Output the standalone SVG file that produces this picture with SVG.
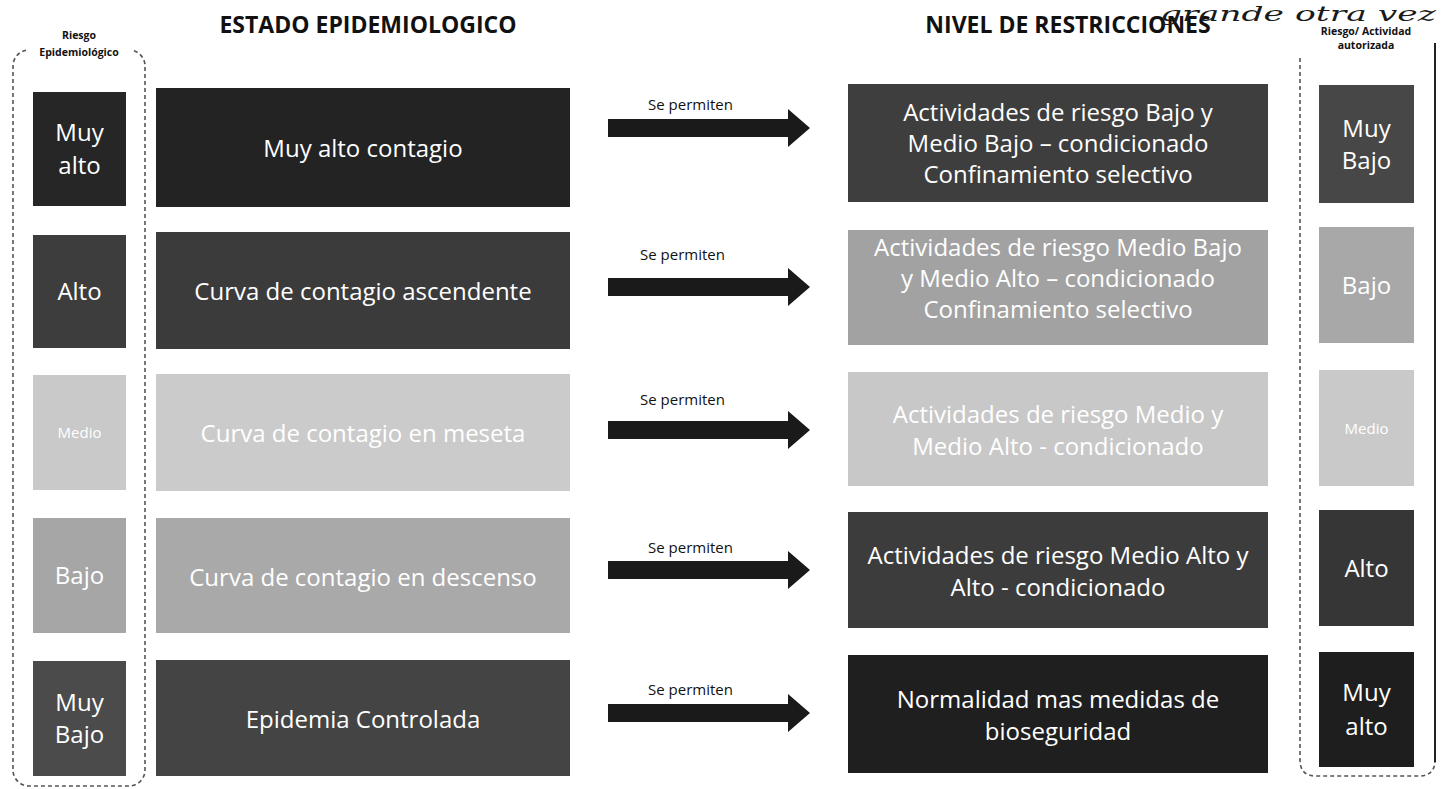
<svg xmlns="http://www.w3.org/2000/svg" width="1443" height="789" viewBox="0 0 1443 789">
<style>
text{font-family:"Open Sans","Liberation Sans",sans-serif}
.t{font-size:24px;fill:#fff;text-anchor:middle}
.ts{font-size:15px;fill:#fff;text-anchor:middle}
.hd{font-size:23px;font-weight:bold;fill:#111;text-anchor:middle}
.lab{font-size:10.5px;font-weight:bold;fill:#111;text-anchor:middle}
.sp{font-size:15px;fill:#111}
.cont{fill:none;stroke:#555;stroke-width:1.6;stroke-dasharray:4 3}
.arr{fill:#1a1a1a}
</style>
<rect width="1443" height="789" fill="#fff"/>

<!-- containers -->
<g id="containers">
<rect class="cont" x="13" y="50" width="132" height="736" rx="16"/>
<rect x="26" y="28" width="106" height="30" fill="#fff"/>
<path class="cont" d="M1300,58 V760 Q1300,776 1316,776 H1419 Q1435,776 1435,760"/>
<line x1="1435" y1="43" x2="1435" y2="762" stroke="#222" stroke-width="2"/>
</g>

<!-- headers -->
<g id="headers">
<text class="hd" x="368" y="33">ESTADO EPIDEMIOLOGICO</text>
<text class="hd" x="1068" y="33">NIVEL DE RESTRICCIONES</text>
<text x="79" y="39" class="lab">Riesgo</text>
<text x="79" y="56" class="lab">Epidemiológico</text>
<text x="1366" y="35" class="lab">Riesgo/ Actividad</text>
<text x="1366" y="49" class="lab">autorizada</text>
<text x="1160" y="21" textLength="276" lengthAdjust="spacingAndGlyphs" style="font-family:'DejaVu Serif','Liberation Serif',serif;font-style:italic;font-size:21px;fill:#1a1a1a">grande otra vez</text>
</g>

<!-- left risk column -->
<g id="riesgo-muy-alto"><rect x="33" y="92" width="93" height="114" fill="#262626"/><text class="t" x="79.5" y="141">Muy</text><text class="t" x="79.5" y="174">alto</text></g>
<g id="riesgo-alto"><rect x="33" y="235" width="93" height="113" fill="#3d3d3d"/><text class="t" x="79.5" y="300">Alto</text></g>
<g id="riesgo-medio"><rect x="33" y="375" width="93" height="115" fill="#c9c9c9"/><text class="ts" x="79.5" y="438">Medio</text></g>
<g id="riesgo-bajo"><rect x="33" y="518" width="93" height="115" fill="#a6a6a6"/><text class="t" x="79.5" y="584">Bajo</text></g>
<g id="riesgo-muy-bajo"><rect x="33" y="661" width="93" height="115" fill="#4b4b4b"/><text class="t" x="79.5" y="711">Muy</text><text class="t" x="79.5" y="743">Bajo</text></g>

<!-- estado column -->
<g id="estado-1"><rect x="156" y="88" width="414" height="119" fill="#232323"/><text class="t" x="363" y="157">Muy alto contagio</text></g>
<g id="estado-2"><rect x="156" y="232" width="414" height="117" fill="#3b3b3b"/><text class="t" x="363" y="300">Curva de contagio ascendente</text></g>
<g id="estado-3"><rect x="156" y="374" width="414" height="117" fill="#cbcbcb"/><text class="t" x="363" y="442">Curva de contagio en meseta</text></g>
<g id="estado-4"><rect x="156" y="518" width="414" height="115" fill="#a9a9a9"/><text class="t" x="363" y="586">Curva de contagio en descenso</text></g>
<g id="estado-5"><rect x="156" y="660" width="414" height="116" fill="#444444"/><text class="t" x="363" y="728">Epidemia Controlada</text></g>

<!-- connectors -->
<g id="connectors">
<polygon class="arr" points="608,119 788,119 788,109 810,128 788,147 788,137 608,137"/>
<text class="sp" x="648" y="110">Se permiten</text>
<polygon class="arr" points="608,278 788,278 788,268 810,287 788,306 788,296 608,296"/>
<text class="sp" x="640" y="260">Se permiten</text>
<polygon class="arr" points="608,421 788,421 788,411 810,430 788,449 788,439 608,439"/>
<text class="sp" x="640" y="405">Se permiten</text>
<polygon class="arr" points="608,561 788,561 788,551 810,570 788,589 788,579 608,579"/>
<text class="sp" x="648" y="553">Se permiten</text>
<polygon class="arr" points="608,704 788,704 788,694 810,713 788,732 788,722 608,722"/>
<text class="sp" x="648" y="695">Se permiten</text>
</g>

<!-- restricciones column -->
<g id="nivel-1"><rect x="848" y="84" width="420" height="118" fill="#3e3e3e"/><text class="t" x="1058" y="121">Actividades de riesgo Bajo y</text><text class="t" x="1058" y="152">Medio Bajo – condicionado</text><text class="t" x="1058" y="183">Confinamiento selectivo</text></g>
<g id="nivel-2"><rect x="848" y="230" width="420" height="115" fill="#a2a2a2"/><text class="t" x="1058" y="256">Actividades de riesgo Medio Bajo</text><text class="t" x="1058" y="287">y  Medio Alto – condicionado</text><text class="t" x="1058" y="318">Confinamiento selectivo</text></g>
<g id="nivel-3"><rect x="848" y="372" width="420" height="114" fill="#c8c8c8"/><text class="t" x="1058" y="423">Actividades de riesgo Medio y</text><text class="t" x="1058" y="455">Medio Alto - condicionado</text></g>
<g id="nivel-4"><rect x="848" y="512" width="420" height="116" fill="#3c3c3c"/><text class="t" x="1058" y="564">Actividades de riesgo Medio Alto y</text><text class="t" x="1058" y="596">Alto - condicionado</text></g>
<g id="nivel-5"><rect x="848" y="655" width="420" height="118" fill="#1f1f1f"/><text class="t" x="1058" y="708">Normalidad mas medidas de</text><text class="t" x="1058" y="740">bioseguridad</text></g>

<!-- actividad autorizada column -->
<g id="act-muy-bajo"><rect x="1319" y="85" width="95" height="118" fill="#474747"/><text class="t" x="1366.5" y="137">Muy</text><text class="t" x="1366.5" y="169">Bajo</text></g>
<g id="act-bajo"><rect x="1319" y="227" width="95" height="116" fill="#a8a8a8"/><text class="t" x="1366.5" y="294">Bajo</text></g>
<g id="act-medio"><rect x="1319" y="370" width="95" height="116" fill="#c9c9c9"/><text class="ts" x="1366.5" y="434">Medio</text></g>
<g id="act-alto"><rect x="1319" y="510" width="95" height="116" fill="#363636"/><text class="t" x="1366.5" y="577">Alto</text></g>
<g id="act-muy-alto"><rect x="1319" y="652" width="95" height="115" fill="#1e1e1e"/><text class="t" x="1366.5" y="701">Muy</text><text class="t" x="1366.5" y="735">alto</text></g>
</svg>
